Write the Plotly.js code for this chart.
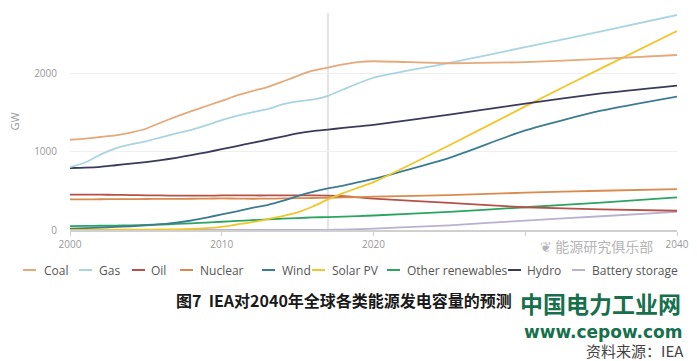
<!DOCTYPE html>
<html>
<head>
<meta charset="utf-8">
<script src="https://cdn.plot.ly/plotly-3.0.1.min.js"></script>
<style>html,body{margin:0;padding:0;background:#fff;}#chart{width:697px;height:361px;}</style>
</head>
<body>
<div id="chart"></div>
<script>
// ---- data (GW) ----
const years = [2000,2001,2002,2003,2004,2005,2006,2007,2008,2009,2010,2011,2012,2013,2014,2015,2016,2017,2018,2019,2020,2025,2030,2035,2040];
const coal    = [1150,1165,1185,1205,1240,1290,1370,1445,1515,1580,1645,1715,1770,1820,1890,1965,2030,2070,2110,2140,2150,2125,2140,2180,2230];
const gas     = [800,860,960,1040,1090,1130,1180,1230,1275,1335,1400,1455,1500,1540,1600,1640,1660,1710,1790,1870,1940,2130,2330,2530,2740];
const oil     = [450,452,450,448,445,442,440,438,438,438,440,442,440,440,440,440,440,438,430,415,400,345,290,262,245];
const nuclear = [390,390,392,393,393,395,396,397,398,400,402,400,398,400,402,405,408,410,415,420,425,445,475,500,522];
const wind    = [17,24,31,39,48,59,74,94,121,159,198,238,283,318,370,433,487,530,565,610,650,920,1270,1520,1700];
const solar   = [1,1,2,3,4,5,7,9,15,23,40,70,100,138,177,225,300,390,470,540,610,1080,1575,2060,2535];
const otherRen= [50,52,54,57,60,65,70,77,85,95,105,115,125,135,145,152,160,165,170,178,185,230,290,350,415];
const hydro   = [790,795,805,825,845,865,890,920,955,990,1030,1070,1110,1150,1190,1230,1260,1280,1300,1320,1340,1470,1610,1740,1840];
const battery = [0,0,0,0,0,0,0,0,0,0,0,0,0,0,0,0,0,2,5,10,18,60,120,175,230];

const seriesNames = ["Coal","Gas","Oil","Nuclear","Wind","Solar PV","Other renewables","Hydro","Battery storage"];
const seriesValues = [coal,gas,oil,nuclear,wind,solar,otherRen,hydro,battery];
const xTickVals = [2000,2010,2020,2030,2040];
const xTickText = ["2000","2010","2020","","2040"];
const markerYear = 2017;

// ---- styling ----
const colors = ["#e6a97a","#a9d4e2","#b4524a","#d98a4e","#3c7c90","#f0c72a","#2ba462","#3b3a5a","#b9b1cf"];
const legendPx = [[23,42],[79,97],[132,149],[180,198],[262,280],[312,330],[387,405],[508,525],[572,590]];

const L = 70, R = 20, T = 13, B = 131, W = 697, H = 361;
const pw = W - L - R, ph = H - T - B;
const px2x = p => (p - L) / pw;
const py2y = p => (H - B - p) / ph;

const traces = seriesNames.map((n, i) => ({
  x: years, y: seriesValues[i], name: n, type: "scatter", mode: "lines",
  line: {color: colors[i], width: 1.8, shape: "spline", smoothing: 0.6},
  hoverinfo: "skip"
}));
const order = [8,6,2,3,4,5,7,1,0];
const data = order.map(i => traces[i]);

const shapes = [{
  type: "line", xref: "x", yref: "paper", x0: markerYear, x1: markerYear, y0: 0, y1: 1,
  line: {color: "#dcdcdc", width: 1.5}, layer: "below"
}];
const annotations = [];
const legY = 270;
seriesNames.forEach((n, i) => {
  shapes.push({type: "line", xref: "paper", yref: "paper",
    x0: px2x(legendPx[i][0]), x1: px2x(legendPx[i][0] + 13), y0: py2y(legY), y1: py2y(legY),
    line: {color: colors[i], width: 2}});
  annotations.push({xref: "paper", yref: "paper", x: px2x(legendPx[i][1]), y: py2y(legY),
    xanchor: "left", yanchor: "middle", showarrow: false, text: n,
    font: {family: "Open Sans", size: 12, color: "#555"}});
});
// watermark
annotations.push({xref: "paper", yref: "paper", x: px2x(538), y: py2y(246), xanchor: "left", yanchor: "middle",
  showarrow: false, text: "❦ 能源研究俱乐部", font: {family: "Noto Sans CJK SC", size: 14, color: "#b5b5b5"}});
// caption
annotations.push({xref: "paper", yref: "paper", x: px2x(344), y: py2y(300), xanchor: "center", yanchor: "middle",
  showarrow: false, text: "<b>图7  IEA对2040年全球各类能源发电容量的预测</b>",
  font: {family: "Noto Sans CJK SC", size: 16, color: "#1a1a1a"}});
annotations.push({xref: "paper", yref: "paper", x: px2x(683), y: py2y(303), xanchor: "right", yanchor: "middle",
  showarrow: false, text: "<b>中国电力工业网</b>",
  font: {family: "Noto Sans CJK SC", size: 23, color: "#17704c"}});
annotations.push({xref: "paper", yref: "paper", x: px2x(685), y: py2y(332), xanchor: "right", yanchor: "middle",
  showarrow: false, text: "<b>www.cepow.com</b>",
  font: {family: "DejaVu Sans", size: 17, color: "#17704c"}});
annotations.push({xref: "paper", yref: "paper", x: px2x(686), y: py2y(350), xanchor: "right", yanchor: "middle",
  showarrow: false, text: "资料来源：IEA",
  font: {family: "Noto Sans CJK SC", size: 15, color: "#444"}});

const layout = {
  width: W, height: H,
  margin: {l: L, r: R, t: T, b: B, pad: 0},
  paper_bgcolor: "#fff", plot_bgcolor: "#fff",
  showlegend: false,
  font: {family: "Open Sans", color: "#999"},
  xaxis: {range: [2000, 2040], tickvals: xTickVals, ticktext: xTickText,
    showgrid: false, zeroline: false, showline: true, linecolor: "#d0d0d0", linewidth: 1.5,
    ticks: "outside", ticklen: 4, tickcolor: "#d0d0d0",
    tickfont: {size: 10, color: "#999"}, fixedrange: true},
  yaxis: {range: [0, 2765], tickvals: [0,1000,2000],
    showgrid: true, gridcolor: "#efefef", gridwidth: 1, zeroline: false, showline: false,
    ticks: "", ticklabelstandoff: 12,
    tickfont: {size: 10, color: "#999"},
    title: {text: "GW", font: {size: 11, color: "#999"}, standoff: 12}, fixedrange: true},
  shapes: shapes,
  annotations: annotations
};
Plotly.newPlot("chart", data, layout, {displayModeBar: false, staticPlot: true});
</script>
</body>
</html>
